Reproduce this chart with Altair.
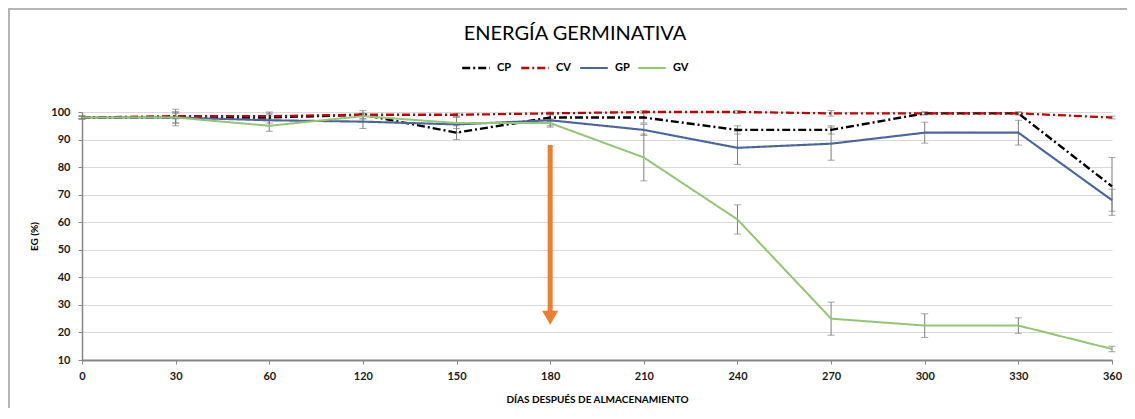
import altair as alt
import pandas as pd

days = ["0", "30", "60", "120", "150", "180", "210", "240", "270", "300", "330", "360"]
series = ["CP", "CV", "GP", "GV"]
y_ticks = [10, 20, 30, 40, 50, 60, 70, 80, 90, 100]

cp = [98, 98, 98, 99, 92.5, 98, 98, 93.5, 93.5, 99.5, 99.5, 73]
cv = [98, 98.5, 98.5, 99, 99, 99.5, 100, 100, 99.5, 99.5, 99.5, 98]
gp = [98, 98, 97, 96.5, 95.5, 97, 93.5, 87, 88.5, 92.5, 92.5, 68]
gv = [98, 98, 95, 98.5, 96, 96, 83.5, 61, 25, 22.5, 22.5, 14]

cp_err = [0.5, 2, 2, 1.5, 2.5, 1.5, 2, 1.5, 1.5, 0.5, 0.5, 10.5]
cv_err = [0.5, 1, 1, 0.5, 0.5, 0.5, 0.5, 0.5, 1, 0.5, 0.5, 0.5]
gp_err = [0.5, 2, 2, 2.5, 3, 2, 2, 6, 6, 3.8, 4.5, 4]
gv_err = [0.5, 3, 2, 1, 2, 1.5, 8.5, 5.3, 6, 4.3, 2.8, 1]

colors = ["#000000", "#C00000", "#4A66A0", "#93C572"]
dashes = [[8, 3, 2, 3], [8, 3, 2, 3], [1, 0], [1, 0]]
widths = [2.4, 2.0, 1.3, 1.3]

arrow_day = ["180"]
arrow_top = [88]
arrow_end = [27]
arrow_head = [25.3]

rows = []
for s, vals, errs in zip(series, [cp, cv, gp, gv], [cp_err, cv_err, gp_err, gv_err]):
    for d, v, e in zip(days, vals, errs):
        rows.append({"dia": d, "serie": s, "eg": v, "lo": v - e, "hi": v + e})
df = pd.DataFrame(rows)

arrow_df = pd.DataFrame({"dia": arrow_day, "top": arrow_top, "end": arrow_end, "head": arrow_head})

font = "Lato"

x_axis = alt.Axis(
    title="DÍAS DESPUÉS DE ALMACENAMIENTO",
    labelAngle=0,
    labelFontWeight="bold",
    labelFontSize=11,
    labelColor="#1a1a1a",
    labelPadding=6,
    labelOverlap=False,
    tickSize=4,
    tickColor="#868686",
    domainColor="#868686",
    domainWidth=2,
    titleFontSize=10,
    titleFontWeight="bold",
    titlePadding=13,
    titleColor="#000000",
    grid=False,
)


def X():
    return alt.X("dia:O", sort=days, scale=alt.Scale(type="point", padding=0), axis=x_axis)


y_scale = alt.Scale(domain=[10, 100], nice=False, zero=False)
y_axis = alt.Axis(
    title="EG (%)",
    values=y_ticks,
    tickCount=10,
    labelFontWeight="bold",
    labelFontSize=11,
    labelColor="#1a1a1a",
    labelPadding=8,
    labelOverlap=False,
    labelBound=False,
    tickSize=4,
    tickColor="#868686",
    domainColor="#868686",
    domainWidth=1.5,
    grid=True,
    gridColor="#D9D9D9",
    gridWidth=1,
    titleFontSize=10,
    titleFontWeight="bold",
    titlePadding=11,
    titleColor="#000000",
)


def Y(field):
    return alt.Y(field, scale=y_scale, axis=y_axis, title="EG (%)")


base = alt.Chart(df)

err_rule = base.mark_rule(color="#7F7F7F", strokeWidth=1).encode(
    x=X(), y=Y("lo:Q"), y2="hi:Q"
)
cap_lo = base.mark_tick(color="#7F7F7F", thickness=1, size=7).encode(x=X(), y=Y("lo:Q"))
cap_hi = base.mark_tick(color="#7F7F7F", thickness=1, size=7).encode(x=X(), y=Y("hi:Q"))

lines = base.mark_line().encode(
    x=X(),
    y=Y("eg:Q"),
    color=alt.Color(
        "serie:N",
        scale=alt.Scale(domain=series, range=colors),
        legend=alt.Legend(
            title=None,
            orient="none",
            legendX=379,
            legendY=-59,
            direction="horizontal",
            symbolType="stroke",
            symbolSize=760,
            symbolStrokeWidth=2,
            labelFontWeight="bold",
            labelFontSize=11,
            labelColor="#000000",
            labelOffset=6,
            columnPadding=4,
        ),
    ),
    strokeDash=alt.StrokeDash(
        "serie:N", scale=alt.Scale(domain=series, range=dashes), legend=None
    ),
    strokeWidth=alt.StrokeWidth(
        "serie:N", scale=alt.Scale(domain=series, range=widths), legend=None
    ),
    order=alt.Order("serie:N"),
)

arrow_shaft = alt.Chart(arrow_df).mark_rule(color="#ED7D31", strokeWidth=5).encode(
    x=X(), y=Y("top:Q"), y2="end:Q"
)
arrow_tip = alt.Chart(arrow_df).mark_point(
    shape="triangle-down", filled=True, color="#ED7D31", size=260, opacity=1
).encode(x=X(), y=Y("head:Q"))

# chart-area frame (left and top edges, as in the reference)
frame_left = alt.Chart(arrow_df).mark_rule(color="#B4B4B4", strokeWidth=2).encode(
    x=alt.value(-73), y=alt.value(-103), y2=alt.value(300)
)
frame_top = alt.Chart(arrow_df).mark_rule(color="#B4B4B4", strokeWidth=2).encode(
    x=alt.value(-74), x2=alt.value(1045), y=alt.value(-103)
)

chart = (
    alt.layer(frame_left, frame_top, err_rule, cap_lo, cap_hi, lines, arrow_shaft, arrow_tip)
    .properties(
        width=1030,
        height=248,
        title=alt.TitleParams(
            "ENERGÍA GERMINATIVA",
            fontSize=20,
            fontWeight="normal",
            font=font,
            color="#000000",
            anchor="middle",
            dx=-22,
            dy=44,
            offset=8,
        ),
        autosize=alt.AutoSizeParams(type="none"),
        padding={"left": 74, "top": 104, "right": 15, "bottom": 48},
    )
    .configure(font=font)
    .configure_view(stroke=None)
)

chart.save("out.html", embed_options={"renderer": "svg", "actions": False})
